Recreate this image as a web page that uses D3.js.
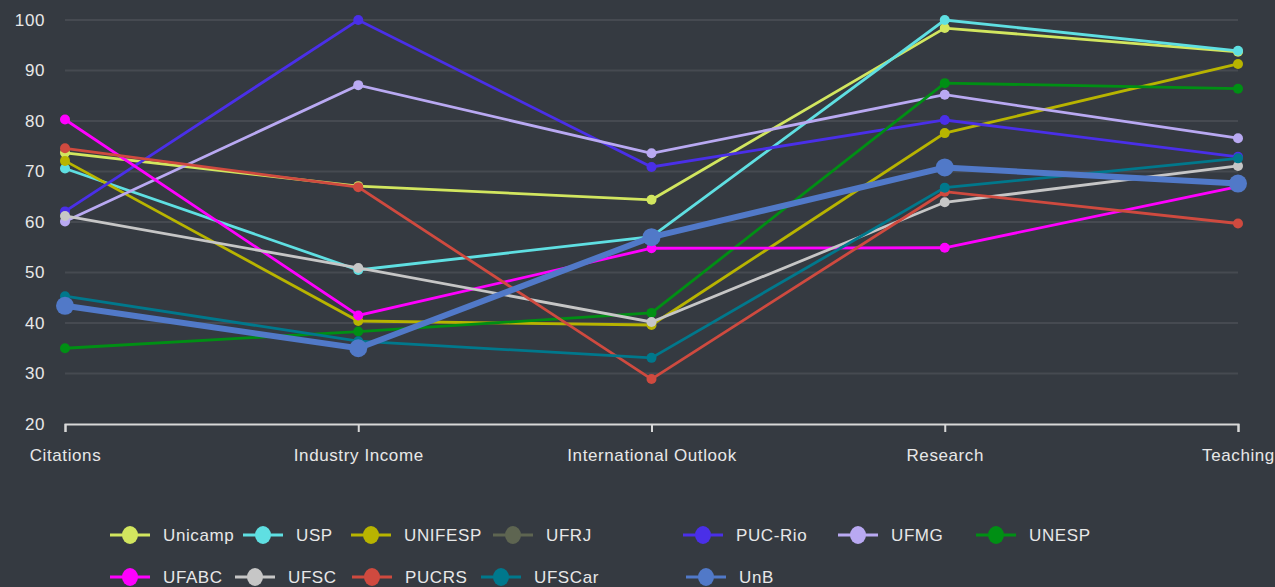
<!DOCTYPE html>
<html lang="en">
<head>
  <meta charset="utf-8">
  <script src="https://d3js.org/d3.v7.min.js"></script>
  <style>
    html, body { margin: 0; padding: 0; background: #353a41; }
    svg { display: block; font-family: "Liberation Sans", Arial, sans-serif; }
    text { letter-spacing: 0.6px; }
  </style>
</head>
<body>
<script>
  // categories on the x axis
  const categories = ["Citations", "Industry Income", "International Outlook", "Research", "Teaching"];
  const yTicks = [20, 30, 40, 50, 60, 70, 80, 90, 100];

  // one array per university, in category order
  const unicamp = [73.7, 67.1, 64.4, 98.4, 93.7];
  const usp     = [70.6, 50.5, 57.1, 100, 93.9];
  const unifesp = [72.1, 40.4, 39.6, 77.6, 91.3];
  const ufrj    = [];  // shown in the legend only
  const pucRio  = [62.1, 100, 70.9, 80.2, 72.9];
  const ufmg    = [60.1, 87.1, 73.6, 85.2, 76.6];
  const unesp   = [35.0, 38.3, 42.0, 87.5, 86.4];
  const ufabc   = [80.3, 41.5, 54.8, 54.9, 67.0];
  const ufsc    = [61.2, 50.9, 40.2, 63.9, 71.1];
  const pucrs   = [74.6, 66.9, 28.9, 66.0, 59.7];
  const ufscar  = [45.3, 36.4, 33.1, 66.8, 72.6];
  const unb     = [43.4, 35.0, 57.0, 70.8, 67.6];

  const names  = ["Unicamp", "USP", "UNIFESP", "UFRJ", "PUC-Rio", "UFMG", "UNESP", "UFABC", "UFSC", "PUCRS", "UFSCar", "UnB"];
  const values = [unicamp, usp, unifesp, ufrj, pucRio, ufmg, unesp, ufabc, ufsc, pucrs, ufscar, unb];
  const colors = ["#d2e65f", "#5fdfe2", "#b8b400", "#5e6551", "#4a2fe8", "#b9a9f2", "#008f14",
                  "#ff00ff", "#c6c6c6", "#cf4a3f", "#00788c", "#5179c8"];

  const series = names.map((n, i) => ({ name: n, color: colors[i], values: values[i], main: n === "UnB" }));

  const W = 1275, H = 587;
  const plotLeft = 65, plotRight = 1238, plotTop = 20, plotBottom = 424;

  const svg = d3.select("body").append("svg")
    .attr("width", W)
    .attr("height", H);

  const x = d3.scalePoint().domain(categories).range([plotLeft, plotRight]);
  const y = d3.scaleLinear().domain([20, 100]).range([plotBottom, plotTop]);

  // horizontal grid lines
  svg.append("g")
    .selectAll("line")
    .data(yTicks.filter(d => d > 20))
    .enter().append("line")
    .attr("x1", plotLeft).attr("x2", plotRight)
    .attr("y1", d => y(d)).attr("y2", d => y(d))
    .attr("stroke", "#464a51")
    .attr("stroke-width", 2);

  // y labels, no axis line
  svg.append("g")
    .selectAll("text")
    .data(yTicks)
    .enter().append("text")
    .attr("x", 45)
    .attr("y", d => y(d))
    .attr("dy", "0.35em")
    .attr("text-anchor", "end")
    .attr("fill", "#e8e8e8")
    .attr("font-size", 17)
    .text(d => d);

  // x axis
  const xAxis = svg.append("g")
    .attr("transform", "translate(0," + plotBottom + ")")
    .call(d3.axisBottom(x).tickSize(8).tickSizeOuter(8).tickPadding(17));
  xAxis.select(".domain").attr("stroke", "#d8d8d8").attr("stroke-width", 2);
  xAxis.selectAll(".tick line").attr("stroke", "#d8d8d8").attr("stroke-width", 2);
  xAxis.selectAll(".tick text")
    .attr("fill", "#e8e8e8")
    .attr("font-size", 17)
    .attr("font-family", "'Liberation Sans', Arial, sans-serif");

  const line = d3.line()
    .x((d, i) => x(categories[i]))
    .y(d => y(d));

  const groups = svg.append("g")
    .selectAll("g")
    .data(series.filter(s => s.values.length))
    .enter().append("g");

  groups.append("path")
    .attr("d", s => line(s.values))
    .attr("fill", "none")
    .attr("stroke", s => s.color)
    .attr("stroke-width", s => s.main ? 6 : 2.8);

  groups.selectAll("circle")
    .data(s => s.values.map((v, i) => ({ v: v, i: i, s: s })))
    .enter().append("circle")
    .attr("cx", d => x(categories[d.i]))
    .attr("cy", d => y(d.v))
    .attr("r", d => d.s.main ? 9 : 5)
    .attr("fill", d => d.s.color);

  // legend, two rows
  const legendRows = [[0, 1, 2, 3, 4, 5, 6], [7, 8, 9, 10, 11]];
  const legendX = [[110, 243, 351, 493, 683, 838, 976], [110, 235, 352, 481, 686]];
  const legendY = [535, 577];

  legendRows.forEach((row, r) => {
    const items = svg.append("g")
      .selectAll("g")
      .data(row.map((k, j) => ({ s: series[k], x: legendX[r][j] })))
      .enter().append("g")
      .attr("transform", d => "translate(" + d.x + "," + legendY[r] + ")");
    items.append("line")
      .attr("x1", 0).attr("x2", 40)
      .attr("stroke", d => d.s.color)
      .attr("stroke-width", 3);
    items.append("ellipse")
      .attr("cx", 20).attr("rx", 8).attr("ry", 9)
      .attr("fill", d => d.s.color);
    items.append("text")
      .attr("x", 53)
      .attr("dy", "0.35em")
      .attr("fill", "#e8e8e8")
      .attr("font-size", 17)
      .text(d => d.s.name);
  });
</script>
</body>
</html>
